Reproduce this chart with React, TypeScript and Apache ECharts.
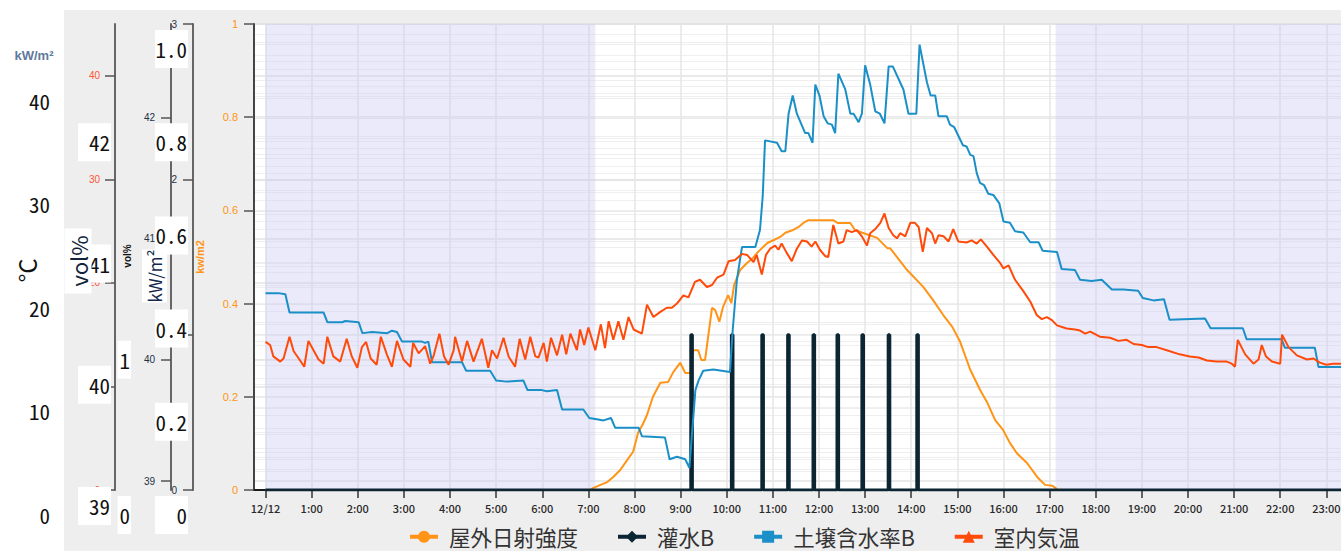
import React, { useEffect, useRef } from "react";
import * as echarts from "echarts";

// ---------- categories / ticks ----------
const hourTicks = [0, 1, 2, 3, 4, 5, 6, 7, 8, 9, 10, 11, 12, 13, 14, 15, 16, 17, 18, 19, 20, 21, 22, 23];
const xTickLabels = [
  "12/12", "1:00", "2:00", "3:00", "4:00", "5:00", "6:00", "7:00", "8:00", "9:00", "10:00", "11:00",
  "12:00", "13:00", "14:00", "15:00", "16:00", "17:00", "18:00", "19:00", "20:00", "21:00", "22:00", "23:00",
];
const soilTicks = [39, 40, 41, 42];
const irrigationCopyTicks = [0, 1];

// axis ranges
const xRange = [-0.25, 24.25];
const solarRange = [0, 1];
const irrigationRange = [0, 3];
const soilRange = [38.926, 42.77];
const tempRange = [0, 45];

// night (shaded) periods, hours
const nightRanges: [number, number][] = [
  [0, 7.15],
  [17.13, 24.25],
];

// ---------- series (hour, value) ----------
// 屋外日射強度 kW/m2
const solarData: [number, number][] = [
  [7.05, 0], [7.1, 0.004], [7.26, 0.011], [7.41, 0.017], [7.54, 0.028], [7.69, 0.043], [7.84, 0.064],
  [7.97, 0.082], [8.08, 0.124], [8.17, 0.139], [8.27, 0.161], [8.4, 0.2], [8.56, 0.23], [8.73, 0.232],
  [8.84, 0.253], [8.99, 0.273], [9.1, 0.251], [9.21, 0.251], [9.27, 0.3], [9.38, 0.3], [9.45, 0.279],
  [9.53, 0.279], [9.68, 0.391], [9.75, 0.386], [9.84, 0.361], [9.92, 0.393], [10.03, 0.418], [10.1, 0.401],
  [10.16, 0.44], [10.29, 0.472], [10.44, 0.487], [10.57, 0.498], [10.68, 0.511], [10.88, 0.53], [11.01, 0.536],
  [11.16, 0.543], [11.27, 0.552], [11.44, 0.558], [11.55, 0.564], [11.66, 0.573], [11.77, 0.579], [12.31, 0.579],
  [12.4, 0.573], [12.68, 0.573], [12.78, 0.558], [12.94, 0.552], [13.26, 0.541], [13.48, 0.519], [13.54, 0.519],
  [13.91, 0.472], [14.26, 0.436], [14.47, 0.408], [14.69, 0.376], [14.89, 0.35], [15.06, 0.318], [15.28, 0.258],
  [15.49, 0.215], [15.65, 0.187], [15.82, 0.15], [15.99, 0.129], [16.14, 0.101], [16.29, 0.079], [16.51, 0.058],
  [16.73, 0.028], [16.9, 0.011], [17.06, 0.009], [17.16, 0.002],
];

// 灌水B: irrigation events (hour) and their level
const irrigationTimes = [9.22, 10.1, 10.76, 11.32, 11.87, 12.39, 12.93, 13.5, 14.12];
const irrigationLevel = 1;
const irrigationDuration = 0.035; // hours
const irrigationSpan = [0, 24];

// 土壌含水率B vol%
const soilData: [number, number][] = [
  [0.0, 40.55], [0.28, 40.55], [0.43, 40.54], [0.52, 40.39], [1.26, 40.39], [1.34, 40.31], [1.66, 40.31],
  [1.73, 40.32], [2.02, 40.31], [2.1, 40.22], [2.31, 40.23], [2.64, 40.22], [2.74, 40.24], [2.85, 40.23],
  [2.96, 40.15], [3.39, 40.15], [3.46, 40.14], [3.53, 40.15], [3.61, 39.98], [4.26, 39.98], [4.35, 39.91],
  [4.87, 39.91], [5.0, 39.83], [5.23, 39.82], [5.59, 39.83], [5.68, 39.75], [5.99, 39.75], [6.1, 39.74],
  [6.32, 39.75], [6.43, 39.59], [6.89, 39.59], [7.02, 39.52], [7.18, 39.51], [7.33, 39.5], [7.49, 39.52],
  [7.58, 39.44], [8.09, 39.44], [8.16, 39.37], [8.66, 39.36], [8.76, 39.18], [8.92, 39.2], [9.1, 39.18],
  [9.19, 39.11], [9.32, 39.75], [9.39, 39.83], [9.49, 39.91], [9.71, 39.92], [10.07, 39.9], [10.13, 40.25],
  [10.22, 40.66], [10.33, 40.93], [10.62, 40.93], [10.72, 41.07], [10.78, 41.35], [10.83, 41.81], [11.09, 41.79],
  [11.19, 41.72], [11.27, 41.72], [11.34, 42.03], [11.43, 42.18], [11.52, 42.03], [11.7, 41.87], [11.77, 41.87],
  [11.86, 41.79], [11.92, 42.27], [12.01, 42.18], [12.1, 42.01], [12.19, 41.95], [12.28, 41.94], [12.35, 41.87],
  [12.42, 42.36], [12.57, 42.23], [12.68, 42.03], [12.75, 42.03], [12.86, 41.96], [12.93, 42.03], [13.0, 42.43],
  [13.11, 42.27], [13.22, 42.05], [13.32, 42.03], [13.42, 41.95], [13.51, 42.42], [13.6, 42.42], [13.83, 42.23],
  [13.94, 42.03], [14.11, 42.03], [14.18, 42.6], [14.34, 42.29], [14.42, 42.18], [14.52, 42.18], [14.59, 42.01],
  [14.77, 42.01], [14.84, 41.94], [14.93, 41.92], [15.12, 41.77], [15.2, 41.76], [15.28, 41.69], [15.35, 41.68],
  [15.42, 41.54], [15.49, 41.46], [15.58, 41.44], [15.67, 41.37], [15.78, 41.36], [15.91, 41.29], [16.0, 41.14],
  [16.14, 41.13], [16.25, 41.06], [16.43, 41.05], [16.58, 40.97], [16.76, 40.97], [16.85, 40.9], [17.16, 40.89],
  [17.26, 40.75], [17.55, 40.74], [17.66, 40.66], [17.91, 40.65], [18.13, 40.66], [18.35, 40.58], [18.6, 40.58],
  [18.92, 40.57], [19.02, 40.51], [19.25, 40.49], [19.48, 40.5], [19.6, 40.33], [20.37, 40.34], [20.49, 40.26],
  [21.19, 40.26], [21.27, 40.17], [22.03, 40.17], [22.1, 40.1], [22.75, 40.1], [22.83, 39.94], [23.5, 39.94],
];

// 室内気温 °C
const tempData: [number, number][] = [
  [0.0, 14.3], [0.1, 14.0], [0.17, 12.9], [0.32, 12.4], [0.39, 12.7], [0.52, 14.8], [0.61, 13.4], [0.72, 12.7],
  [0.84, 11.9], [0.93, 14.4], [1.04, 13.5], [1.15, 12.6], [1.26, 12.2], [1.34, 14.8], [1.47, 12.9], [1.62, 12.4],
  [1.76, 14.6], [1.87, 12.9], [1.99, 11.8], [2.09, 13.8], [2.18, 14.3], [2.28, 12.7], [2.41, 12.1], [2.5, 14.8],
  [2.63, 13.1], [2.74, 11.9], [2.85, 14.4], [2.99, 12.6], [3.14, 11.9], [3.2, 14.2], [3.32, 13.2], [3.46, 13.9],
  [3.57, 12.2], [3.64, 12.9], [3.77, 15.1], [3.87, 12.9], [3.97, 12.1], [4.08, 13.5], [4.11, 14.8], [4.26, 12.4],
  [4.37, 14.4], [4.51, 12.4], [4.69, 14.6], [4.83, 11.8], [4.91, 13.5], [5.02, 12.7], [5.16, 14.7], [5.27, 12.9],
  [5.41, 11.9], [5.51, 14.6], [5.63, 12.6], [5.74, 14.8], [5.85, 12.9], [5.92, 12.8], [6.03, 14.2], [6.1, 12.4],
  [6.19, 14.7], [6.32, 13.0], [6.43, 15.0], [6.52, 13.1], [6.61, 15.1], [6.75, 13.5], [6.82, 15.5], [6.91, 14.0],
  [7.0, 15.7], [7.15, 13.5], [7.27, 16.0], [7.36, 13.7], [7.44, 16.3], [7.54, 14.5], [7.65, 16.3], [7.76, 14.5],
  [7.87, 16.7], [7.98, 15.5], [8.16, 15.1], [8.27, 17.9], [8.41, 16.7], [8.56, 17.2], [8.7, 17.6], [8.81, 17.6],
  [8.92, 18.0], [9.06, 18.8], [9.17, 18.6], [9.31, 20.1], [9.42, 20.3], [9.57, 19.6], [9.68, 19.8], [9.79, 20.5],
  [9.93, 20.8], [10.04, 22.1], [10.18, 22.2], [10.33, 22.8], [10.44, 22.7], [10.58, 22.0], [10.65, 22.7],
  [10.76, 20.8], [10.85, 22.7], [10.94, 23.3], [11.05, 23.6], [11.12, 23.2], [11.19, 23.8], [11.3, 22.9],
  [11.41, 22.1], [11.52, 23.3], [11.63, 24.1], [11.74, 24.0], [11.84, 23.5], [11.92, 24.0], [12.02, 23.2],
  [12.13, 22.6], [12.2, 22.5], [12.31, 25.6], [12.42, 23.8], [12.53, 24.0], [12.6, 25.1], [12.71, 24.9],
  [12.82, 25.1], [12.93, 24.5], [13.04, 23.6], [13.11, 24.8], [13.22, 25.2], [13.33, 25.8], [13.42, 26.7],
  [13.51, 25.3], [13.61, 24.6], [13.69, 24.3], [13.76, 24.8], [13.87, 24.5], [13.98, 25.8], [14.08, 25.8],
  [14.16, 25.4], [14.25, 23.0], [14.34, 25.3], [14.45, 24.8], [14.52, 23.8], [14.59, 24.6], [14.7, 24.5],
  [14.81, 24.0], [14.91, 25.2], [15.02, 24.0], [15.2, 23.9], [15.31, 24.1], [15.42, 23.8], [15.51, 24.2],
  [15.64, 23.5], [15.78, 22.7], [15.93, 21.9], [16.0, 21.4], [16.11, 21.7], [16.25, 20.3], [16.43, 19.2],
  [16.58, 18.2], [16.72, 16.9], [16.83, 16.5], [16.94, 16.7], [17.05, 16.4], [17.16, 15.9], [17.37, 15.6],
  [17.55, 15.5], [17.66, 15.4], [17.77, 15.1], [17.88, 15.3], [18.09, 14.8], [18.31, 14.7], [18.49, 14.4],
  [18.67, 14.5], [18.82, 14.1], [19.0, 14.0], [19.14, 13.8], [19.32, 13.8], [19.54, 13.5], [19.82, 13.1],
  [20.04, 12.9], [20.23, 12.8], [20.41, 12.5], [20.62, 12.4], [20.84, 12.4], [20.95, 12.2], [21.02, 11.9],
  [21.08, 14.5], [21.24, 13.1], [21.42, 12.2], [21.53, 12.6], [21.6, 14.0], [21.69, 12.9], [21.82, 12.4],
  [22.0, 12.2], [22.04, 15.0], [22.18, 13.8], [22.36, 13.0], [22.58, 12.6], [22.72, 12.7], [22.86, 12.3],
  [23.0, 12.1], [23.14, 12.2], [23.31, 12.2], [23.6, 12.0],
];

// ---------- styling ----------
const FONT_JP = "'Noto Sans CJK JP', 'Noto Sans', sans-serif";
const FONT_DIGIT = "'Noto Sans Mono CJK JP', 'Liberation Mono', 'DejaVu Sans Mono', monospace";
const FONT_SMALL = "'Liberation Sans', 'DejaVu Sans', sans-serif";

const C_SOLAR = "#ff9416";
const C_IRR = "#0c2533";
const C_SOIL = "#1b8fc7";
const C_TEMP = "#ff4a0a";

const irrigationData: [number, number][] = (() => {
  const d: [number, number][] = [[irrigationSpan[0], 0]];
  irrigationTimes.forEach((t) => {
    d.push([t, 0], [t, irrigationLevel], [t + irrigationDuration, irrigationLevel], [t + irrigationDuration, 0]);
  });
  d.push([irrigationSpan[1], 0]);
  return d;
})();

const majorSplit = { show: true, lineStyle: { color: "#e3e3e3", width: 1.5 } };
const minorSplit = { show: true, lineStyle: { color: "#efefef", width: 1 } };

const mainAxisBase = (offset: number) => ({
  type: "value" as const,
  gridIndex: 0,
  position: "left" as const,
  offset,
  axisLine: { show: true, onZero: false, lineStyle: { color: "#666", width: 2 } },
  axisTick: { show: true, length: 10, lineStyle: { color: "#555", width: 1.5 } },
  splitLine: majorSplit,
  minorTick: { show: false, splitNumber: 5 },
  minorSplitLine: minorSplit,
});

const boxLabel = {
  margin: 0,
  fontSize: 21,
  color: "#111",
  fontFamily: FONT_DIGIT,
  backgroundColor: "#fff",
  lineHeight: 20,
};

const copyAxisBase = (offset: number) => ({
  type: "value" as const,
  gridIndex: 1,
  position: "left" as const,
  offset,
  z: 5,
  axisLine: { show: false, onZero: false },
  axisTick: { show: false },
  splitLine: { show: false },
});

const option: any = {
  animation: false,
  backgroundColor: "#ffffff",
  grid: [
    {
      left: 254, top: 24, width: 1130, height: 466, show: true,
      outerBoundsMode: "none", containLabel: false,
      backgroundColor: "#ffffff", borderColor: "#d2d2d2", borderWidth: 1,
    },
    { left: 254, top: 49, width: 1130, height: 466, show: false, outerBoundsMode: "none", containLabel: false },
  ],
  xAxis: [
    {
      type: "value",
      gridIndex: 0,
      min: xRange[0],
      max: xRange[1],
      axisLine: { show: true, onZero: false, lineStyle: { color: "#1a1a1a", width: 2 } },
      axisTick: { show: true, length: 8, customValues: hourTicks, lineStyle: { color: "#333", width: 1.5 } },
      axisLabel: {
        customValues: hourTicks,
        formatter: (v: number) => xTickLabels[Math.round(v)] ?? "",
        margin: 12,
        fontSize: 11,
        fontWeight: 500,
        color: "#2a2a2a",
        fontFamily: FONT_JP,
      },
      splitLine: { show: true, lineStyle: { color: "#e6e6e6", width: 1.5 } },
    },
    { type: "value", gridIndex: 1, min: 0, max: 1, show: false },
  ],
  yAxis: [
    {
      ...mainAxisBase(0),
      min: solarRange[0], max: solarRange[1], interval: 0.2,
      axisLine: { show: true, onZero: false, lineStyle: { color: "#444", width: 2 } },
      name: "kw/m2", nameLocation: "middle", nameGap: 49, nameRotate: 90,
      nameTextStyle: { color: C_SOLAR, fontWeight: "bold", fontSize: 11, fontFamily: FONT_SMALL },
      axisLabel: { color: C_SOLAR, fontSize: 11, margin: 16, fontFamily: FONT_SMALL },
    },
    {
      ...mainAxisBase(61),
      min: irrigationRange[0], max: irrigationRange[1], interval: 1,
      axisLabel: { color: "#1d3147", fontSize: 10, margin: 16, fontFamily: FONT_SMALL },
    },
    {
      ...mainAxisBase(83),
      min: soilRange[0], max: soilRange[1],
      axisTick: { show: true, length: 10, customValues: soilTicks, lineStyle: { color: "#555", width: 1.5 } },
      axisLabel: { customValues: soilTicks, color: "#1d3147", fontSize: 10, margin: 16, fontFamily: FONT_SMALL },
    },
    {
      ...mainAxisBase(139),
      min: tempRange[0], max: tempRange[1], interval: 10,
      axisLabel: { color: "#ff5533", fontSize: 10, margin: 15, showMaxLabel: false, fontFamily: FONT_SMALL },
    },
    // shifted boxed copies
    {
      ...copyAxisBase(203),
      min: tempRange[0], max: tempRange[1], interval: 10,
      axisLabel: { ...boxLabel, showMaxLabel: false, padding: [9, 1, 9, 2] },
    },
    {
      ...copyAxisBase(143),
      min: soilRange[0], max: soilRange[1],
      axisLabel: { ...boxLabel, customValues: soilTicks, width: 30, align: "right", padding: [9, 1, 9, 2] },
    },
    {
      ...copyAxisBase(123),
      min: irrigationRange[0], max: irrigationRange[1],
      axisLabel: { ...boxLabel, customValues: irrigationCopyTicks, padding: [9, 1, 9, 2] },
    },
    {
      ...copyAxisBase(66),
      min: solarRange[0], max: solarRange[1], interval: 0.2,
      axisLabel: {
        ...boxLabel,
        width: 31,
        align: "right",
        padding: [9, 1, 9, 1],
        formatter: (v: number) => (v === 0 ? "0" : v.toFixed(1)),
      },
    },
  ],
  legend: {
    left: 408,
    top: 526,
    padding: 0,
    itemWidth: 28,
    itemHeight: 15,
    itemGap: 38,
    lineStyle: { width: 4 },
    textStyle: { fontSize: 21.5, color: "#333", fontFamily: FONT_JP, padding: [0, 0, 0, 6] },
    data: ["屋外日射強度", "灌水B", "土壌含水率B", "室内気温"],
  },
  series: [
    {
      name: "屋外日射強度",
      type: "line",
      xAxisIndex: 0,
      yAxisIndex: 0,
      data: solarData,
      symbol: "circle",
      showSymbol: false,
      lineStyle: { color: C_SOLAR, width: 2 },
      itemStyle: { color: C_SOLAR },
      markArea: {
        silent: true,
        itemStyle: { color: "rgba(200,200,245,0.38)" },
        data: nightRanges.map(([a, b]) => [{ xAxis: a }, { xAxis: b }]),
      },
    },
    {
      name: "灌水B",
      type: "line",
      xAxisIndex: 0,
      yAxisIndex: 1,
      data: irrigationData,
      symbol: "diamond",
      showSymbol: false,
      lineStyle: { color: C_IRR, width: 3 },
      itemStyle: { color: C_IRR },
    },
    {
      name: "土壌含水率B",
      type: "line",
      xAxisIndex: 0,
      yAxisIndex: 2,
      data: soilData,
      symbol: "rect",
      showSymbol: false,
      lineStyle: { color: C_SOIL, width: 2 },
      itemStyle: { color: C_SOIL },
    },
    {
      name: "室内気温",
      type: "line",
      xAxisIndex: 0,
      yAxisIndex: 3,
      data: tempData,
      symbol: "triangle",
      showSymbol: false,
      lineStyle: { color: C_TEMP, width: 2 },
      itemStyle: { color: C_TEMP },
    },
  ],
  graphic: [
    {
      type: "rect",
      z: -100,
      silent: true,
      shape: { x: 64, y: 10, width: 1277, height: 541 },
      style: { fill: "#eeeeee" },
    },
    {
      type: "text",
      z: 100,
      x: 34,
      y: 55,
      style: { text: "kW/m²", font: `bold 13px ${FONT_SMALL}`, fill: "#5f7a9c", align: "center", verticalAlign: "middle" },
    },
    {
      type: "text",
      z: 100,
      x: 26.5,
      y: 270.5,
      rotation: Math.PI / 2,
      style: {
        text: "°C", font: `24px ${FONT_JP}`, fill: "#111", align: "center", verticalAlign: "middle",
        backgroundColor: "#fff", padding: [4, 2, 4, 2],
      },
    },
    {
      type: "text",
      z: 100,
      x: 78,
      y: 261,
      rotation: Math.PI / 2,
      style: {
        text: "vol%", font: `22px ${FONT_JP}`, fill: "#10243a", align: "center", verticalAlign: "middle",
        backgroundColor: "#fff", padding: [3, 7, 2, 7],
      },
    },
    {
      type: "text",
      z: 100,
      x: 127,
      y: 256,
      rotation: Math.PI / 2,
      style: { text: "vol%", font: `bold 10px ${FONT_SMALL}`, fill: "#111", align: "center", verticalAlign: "middle" },
    },
    {
      type: "text",
      z: 100,
      x: 154.5,
      y: 276,
      rotation: Math.PI / 2,
      style: {
        text: "kW/m²", font: `17px ${FONT_JP}`, fill: "#13294b", align: "center", verticalAlign: "middle",
        backgroundColor: "#fff", padding: [4, 0, 4, 0],
      },
    },
  ],
};

export default function App() {
  const ref = useRef<HTMLDivElement>(null);
  useEffect(() => {
    if (!ref.current) return;
    const chart = echarts.init(ref.current, undefined, { renderer: "svg" });
    chart.setOption(option);
    return () => chart.dispose();
  }, []);
  return <div ref={ref} style={{ position: "fixed", left: 0, top: 0, width: 1341, height: 551 }} />;
}
